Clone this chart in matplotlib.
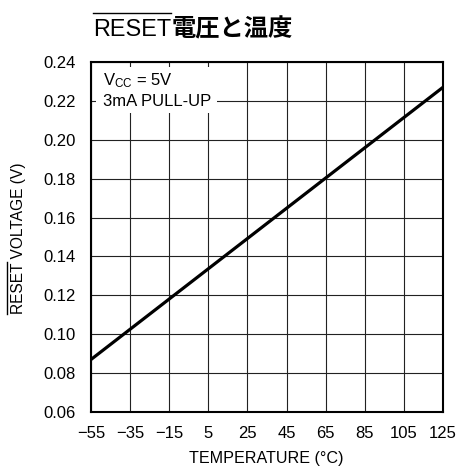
import matplotlib
matplotlib.use("Agg")
import matplotlib.pyplot as plt
from matplotlib.lines import Line2D

plt.rcParams['font.family'] = ['Liberation Sans', 'Noto Sans CJK JP', 'DejaVu Sans']
plt.rcParams['mathtext.fontset'] = 'custom'
plt.rcParams['mathtext.rm'] = 'Liberation Sans'
plt.rcParams['mathtext.it'] = 'Liberation Sans'

# reset threshold vs temperature (end points of the straight line)
temps = [-55, 125]
reset_v = [0.087, 0.227]

x_ticks = [-55, -35, -15, 5, 25, 45, 65, 85, 105, 125]
x_labels = ['\u221255', '\u221235', '\u221215', '5', '25', '45', '65', '85', '105', '125']
y_ticks = [0.06, 0.08, 0.10, 0.12, 0.14, 0.16, 0.18, 0.20, 0.22, 0.24]

W, H = 458, 468
fig = plt.figure(figsize=(W / 100, H / 100), dpi=100)
ax = fig.add_axes([91 / W, 1 - 412 / H, 352 / W, 350 / H])

ax.plot(temps, reset_v, color='black', lw=2.3, solid_capstyle='butt', zorder=3)

ax.set_xlim(-55, 125)
ax.set_ylim(0.06, 0.24)
ax.set_xticks(x_ticks)
ax.set_xticklabels(x_labels)
ax.set_yticks(y_ticks)
ax.set_yticklabels(['%.2f' % v for v in y_ticks])
ax.tick_params(length=0, labelsize=12)
ax.tick_params(axis='x', pad=10)
ax.tick_params(axis='y', pad=11)
ax.grid(True, color='#222222', lw=0.8)
ax.set_axisbelow(True)
for s in ax.spines.values():
    s.set_linewidth(1.5)
    s.set_zorder(5)

# conditions box (white patch hides the grid behind the text)
ax.add_patch(plt.Rectangle((-52.4, 0.2138), 61.8, 0.0236, facecolor='white',
                           edgecolor='none', zorder=2))
ax.text(-49, 0.2303, r'$\mathrm{V_{CC}}$ = 5V', fontsize=12, va='center', ha='left', zorder=4)
ax.text(-49, 0.2197, '3mA PULL-UP', fontsize=12, va='center', ha='left', zorder=4)

# axis labels
fig.text(266 / W, 1 - 459 / H, 'TEMPERATURE (\u00b0C)', fontsize=11.6, ha='center', va='center')
ylab = fig.text(19 / W, 1 - 238 / H, 'RESET VOLTAGE (V)', fontsize=11.2, rotation=90,
                ha='center', va='center')

# title: RESET (regular) + Japanese (bold)
base = 1 - 36 / H
t1 = fig.text(93 / W, base, 'RESET', fontsize=16.8, ha='left', va='baseline')
fig.canvas.draw()
r = fig.canvas.get_renderer()
bb = t1.get_window_extent(r)
fig.text(bb.x1 / W, base, '電圧と温度', fontsize=17.5, fontweight='bold',
         family='Noto Sans CJK JP', ha='left', va='baseline')
fig.add_artist(Line2D([bb.x0 / W, bb.x1 / W], [1 - 13 / H] * 2, color='black', lw=1.0))

# overline on RESET in the y label
yb = ylab.get_window_extent(r)
tmp = fig.text(0, 0, 'RESET', fontsize=11.2)
tw = tmp.get_window_extent(r).width
tmp.remove()
fig.add_artist(Line2D([6.5 / W] * 2, [yb.y0 / H, (yb.y0 + tw) / H], color='black', lw=1.0))

fig.savefig('out.png', dpi=100)
